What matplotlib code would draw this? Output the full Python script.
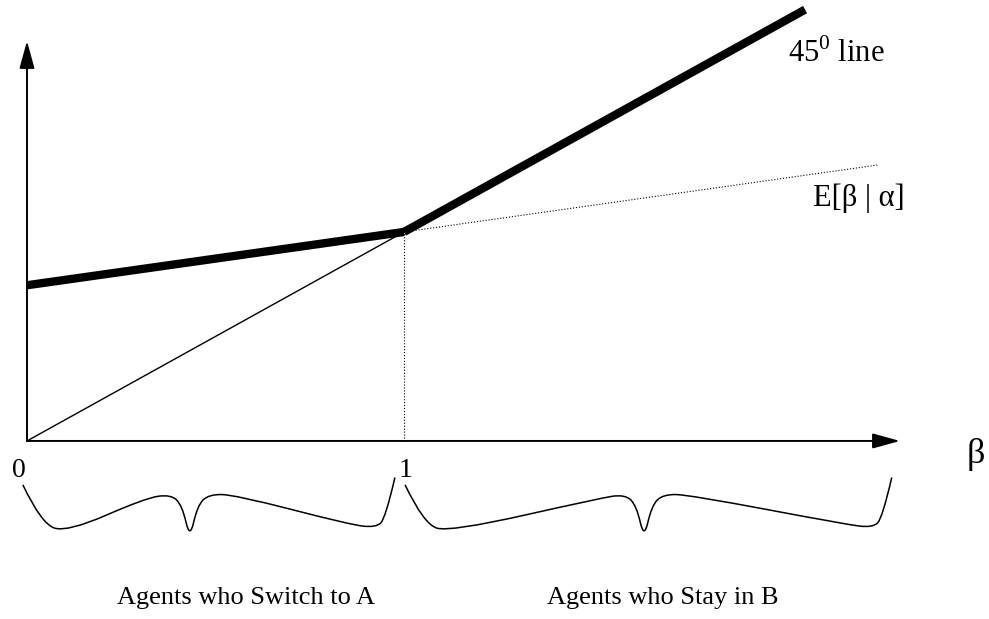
import numpy as np
import matplotlib.pyplot as plt
from matplotlib.path import Path
from matplotlib.patches import PathPatch

plt.rcParams['font.family'] = ['Liberation Serif', 'DejaVu Serif']
plt.rcParams['mathtext.fontset'] = 'custom'
plt.rcParams['mathtext.rm'] = 'Liberation Serif'

# datos del diagrama (beta en x, 45 grados: y = beta)
BETA_CORTE = 1.0
BETA_MAX_45 = 2.064
BETA_MAX_E = 2.26
E_INTER = 0.745
E_PEND = 0.255
X_FLECHA = 2.316
Y_FLECHA = 1.914

beta_izq = np.array([0.0, BETA_CORTE])
beta_der = np.array([BETA_CORTE, BETA_MAX_45])
beta_e = np.array([BETA_CORTE, BETA_MAX_E])
esperanza_izq = E_INTER + E_PEND * beta_izq
esperanza_der = E_INTER + E_PEND * beta_e

etiquetas = ['Agents who Switch to A', 'Agents who Stay in B']


def llave(ax, x0, x1, xd):
    # llave dibujada a mano debajo del eje
    pts = [(x0, -0.21), (x0 + 0.05, -0.40), (x0 + 0.12, -0.435),
           (xd - 0.12, -0.275), (xd - 0.05, -0.255), (xd - 0.02, -0.31),
           (xd, -0.47), (xd + 0.02, -0.31), (xd + 0.05, -0.255),
           (xd + 0.12, -0.258), (x1 - 0.12, -0.40), (x1 - 0.05, -0.415),
           (x1 - 0.025, -0.37), (x1, -0.175)]
    verts = [pts[0]]
    codes = [Path.MOVETO]
    for i in range(1, len(pts) - 1):
        mid = ((pts[i][0] + pts[i + 1][0]) / 2, (pts[i][1] + pts[i + 1][1]) / 2)
        if i == len(pts) - 2:
            mid = pts[-1]
        verts += [pts[i], mid]
        codes += [Path.CURVE3, Path.CURVE3]
    ax.add_patch(PathPatch(Path(verts, codes), fill=False, lw=1.1, color='black'))


fig = plt.figure(figsize=(9.89, 6.19), dpi=100)
ax = fig.add_axes([0, 0, 1, 1])
ax.set_xlim(-0.0716, 2.552)
ax.set_ylim(-0.852, 2.110)
ax.axis('off')

# ejes con flechas
flecha = dict(arrowstyle='-|>,head_length=1.2,head_width=0.33', mutation_scale=14,
              lw=1.4, color='black', shrinkA=0, shrinkB=0)
ax.annotate('', xy=(X_FLECHA, 0), xytext=(0, 0), arrowprops=flecha)
ax.annotate('', xy=(0, Y_FLECHA), xytext=(0, 0), arrowprops=flecha)

# linea de 45 grados (delgada) y su parte gruesa
ax.plot([0, BETA_CORTE], [0, BETA_CORTE], color='black', lw=1.0)
ax.plot(beta_der, beta_der, color='black', lw=6, solid_capstyle='butt')
ax.plot(beta_izq, esperanza_izq, color='black', lw=6, solid_capstyle='butt')
ax.plot(beta_e, esperanza_der, color='black', lw=0.8, linestyle=':')
ax.plot([BETA_CORTE, BETA_CORTE], [0, BETA_CORTE], color='black', lw=0.8, linestyle=':')

ax.text(2.019, 1.813, '45$^{0}$ line', fontsize=22, ha='left', va='baseline')
ax.text(2.085, 1.125, 'E[β | α]', fontsize=22, ha='left', va='baseline')
ax.text(-0.021, -0.172, '0', fontsize=20, ha='center', va='baseline')
ax.text(1.005, -0.172, '1', fontsize=20, ha='center', va='baseline')
ax.text(2.517, 0.015, 'β', fontsize=26, ha='center', va='top')

llave(ax, -0.011, 0.976, 0.432)
llave(ax, 1.003, 2.294, 1.637)

ax.text(0.581, -0.78, etiquetas[0], fontsize=19, ha='center', va='baseline')
ax.text(1.687, -0.78, etiquetas[1], fontsize=19, ha='center', va='baseline')

plt.savefig('out.png', dpi=100)
